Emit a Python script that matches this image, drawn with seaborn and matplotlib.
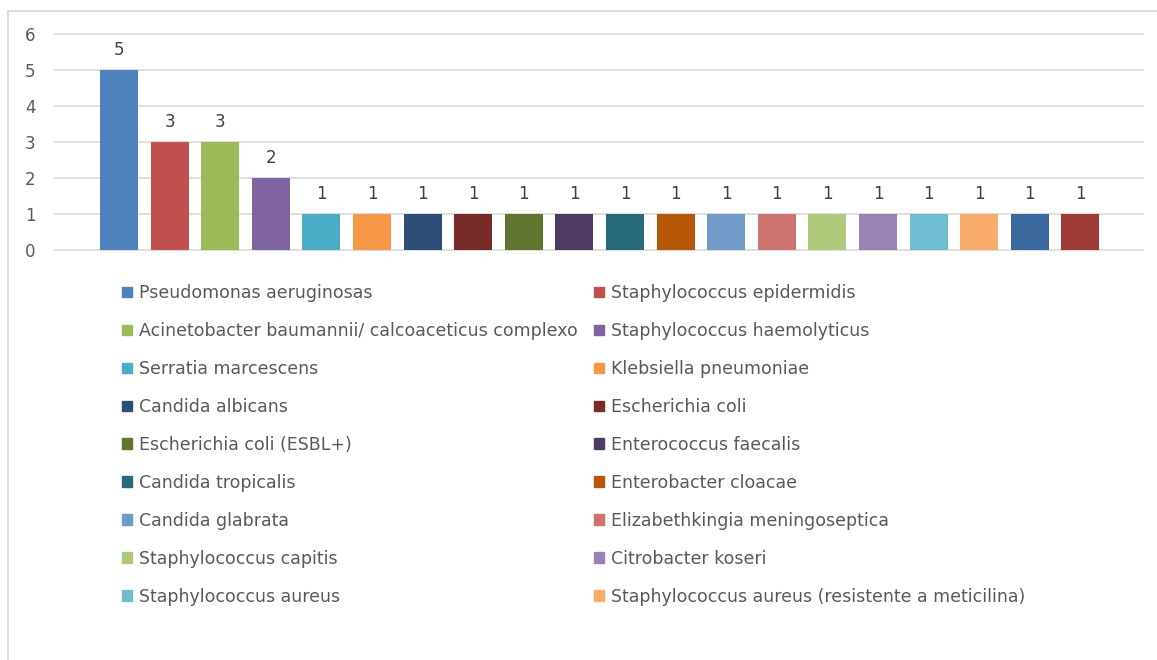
import matplotlib
matplotlib.use("Agg")
import matplotlib.pyplot as plt
import matplotlib.patches as mpatches
from matplotlib.lines import Line2D
import seaborn as sns
import pandas as pd

# ---- data ----
species = [
    "Pseudomonas aeruginosas",
    "Staphylococcus epidermidis",
    "Acinetobacter baumannii/ calcoaceticus complexo",
    "Staphylococcus haemolyticus",
    "Serratia marcescens",
    "Klebsiella pneumoniae",
    "Candida albicans",
    "Escherichia coli",
    "Escherichia coli (ESBL+)",
    "Enterococcus faecalis",
    "Candida tropicalis",
    "Enterobacter cloacae",
    "Candida glabrata",
    "Elizabethkingia meningoseptica",
    "Staphylococcus capitis",
    "Citrobacter koseri",
    "Staphylococcus aureus",
    "Staphylococcus aureus (resistente a meticilina)",
    "Outro 19",
    "Outro 20",
]
counts = [5, 3, 3, 2, 1, 1, 1, 1, 1, 1, 1, 1, 1, 1, 1, 1, 1, 1, 1, 1]
legend_count = 18  # entries visible in the legend
colors = [
    "#4F81BD", "#C0504D", "#9BBB59", "#8064A2", "#4BACC6", "#F79646",
    "#2C4D75", "#772C2A", "#5F7530", "#4D3B62", "#276A7C", "#B65708",
    "#729ACA", "#CD7371", "#AFC97A", "#9983B5", "#6FBDD1", "#F9AB6B",
    "#3A679C", "#9C3A37",
]
yticks = [0, 1, 2, 3, 4, 5, 6]

df = pd.DataFrame({"species": species, "count": counts})

W, H = 1157, 660
fig = plt.figure(figsize=(W / 100, H / 100), dpi=100)
fig.patch.set_facecolor("white")

ax = fig.add_axes([55 / W, 1 - 250 / H, (1143 - 55) / W, (250 - 34) / H])
sns.barplot(data=df, x="species", y="count", hue="species", palette=colors,
            legend=False, width=0.75, ax=ax, saturation=1, edgecolor="none")

spacing = 50.6
left_off = (119 - 55) / spacing
ax.set_xlim(-left_off, -left_off + (1143 - 55) / spacing)
ax.set_ylim(0, 6)
ax.set_yticks(yticks)
ax.set_yticklabels([str(v) for v in yticks])
ax.set_xticks([])
ax.set_xlabel("")
ax.set_ylabel("")
for s in ax.spines.values():
    s.set_visible(False)
ax.yaxis.grid(True, color="#D9D9D9", linewidth=1.2)
for gl in ax.get_ygridlines():
    gl.set_clip_on(False)
ax.set_axisbelow(True)
ax.tick_params(axis="y", length=0, pad=14, labelsize=12, labelcolor="#595959")
ax.set_facecolor("white")

for cont in ax.containers:
    ax.bar_label(cont, fmt="%d", padding=8, fontsize=12, color="#404040")

# legend: two columns, row-major order
handles = [mpatches.Patch(color=colors[i]) for i in range(legend_count)]
labels = species[:legend_count]
common = dict(frameon=False, fontsize=12.5, labelcolor="#595959",
              handlelength=0.55, handleheight=0.55, handletextpad=0.45,
              labelspacing=1.15, borderpad=0, borderaxespad=0, loc="upper left")
leg1 = fig.legend(handles[0::2], labels[0::2],
                  bbox_to_anchor=(122 / W, 1 - 284 / H), **common)
leg2 = fig.legend(handles[1::2], labels[1::2],
                  bbox_to_anchor=(594 / W, 1 - 284 / H), **common)

# outer chart frame (cropped at right and bottom)
fig.add_artist(Line2D([8 / W, 1.0], [1 - 11 / H, 1 - 11 / H],
                      transform=fig.transFigure, color="#D9D9D9", linewidth=1.2))
fig.add_artist(Line2D([8 / W, 8 / W], [1 - 11 / H, 0.0],
                      transform=fig.transFigure, color="#D9D9D9", linewidth=1.2))

fig.savefig("out.png", dpi=100, facecolor="white")
